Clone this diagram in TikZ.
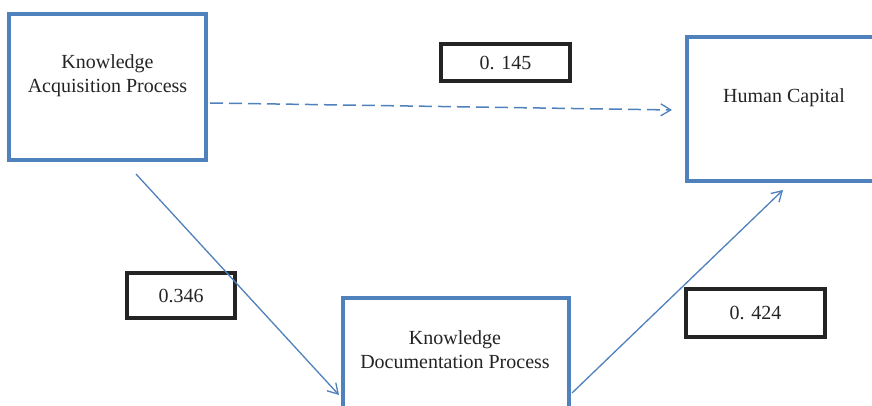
\documentclass[tikz,border=0pt]{standalone}
\usepackage{fontspec}
\setmainfont{Liberation Serif}
\usetikzlibrary{arrows.meta,calc}
\definecolor{boxblue}{RGB}{79,129,189}
\definecolor{ink}{RGB}{36,36,36}
\begin{document}
\begin{tikzpicture}[x=1pt,y=-1pt,
  factor/.style={draw=boxblue, line width=4pt, inner sep=0pt, fill=white},
  caption/.style={align=center, text=ink, inner sep=0pt,
    font=\fontsize{20}{24}\selectfont},
  weight/.style={draw=ink, line width=4pt, inner sep=0pt, text=ink,
    font=\fontsize{20}{24}\selectfont},
  effect/.style={draw=boxblue, line width=1.3pt,
    -{Straight Barb[length=10pt,width=12pt,line width=1.3pt]}},
  indirect/.style={effect, line width=1.5pt, dash pattern=on 13pt off 6pt}]
\useasboundingbox (0,0) rectangle (872,406);
\clip (0,0) rectangle (872,406);
\fill[white] (0,0) rectangle (872,406);

% construct boxes
\node[factor, minimum width=197pt, minimum height=146pt] (kap) at (107.5,87) {};
\node[caption] (kapt) at (107.5,76) {Knowledge\\Acquisition Process};

\node[factor, minimum width=194pt, minimum height=144pt] (hc) at (784,109) {};
\node[caption] (hct) at (784,98) {Human Capital};

\node[factor, minimum width=226pt, minimum height=146pt] (kdp) at (456,371) {};
\node[caption] (kdpt) at (455,350) {Knowledge\\Documentation Process};

% path coefficients
\node[weight, minimum width=129pt, minimum height=37pt] (w1) at (505.5,62.5) {0. 145};
\node[weight, minimum width=108pt, minimum height=45pt] (w2) at (181,295.5) {0.346};
\node[weight, minimum width=139pt, minimum height=48pt] (w3) at (755.5,313) {0. 424};

% paths between constructs
\draw[indirect] ($(kap.east)+(2,16)$) -- ($(hc.west)+(-13,1)$);
\draw[effect] ($(kap.south)+(28.5,12)$) -- ($(kdp.west)+(-2,24)$);
\draw[effect] ($(kdp.east)+(1,22)$) -- ($(hc.south)+(-1,7)$);
\end{tikzpicture}
\end{document}
